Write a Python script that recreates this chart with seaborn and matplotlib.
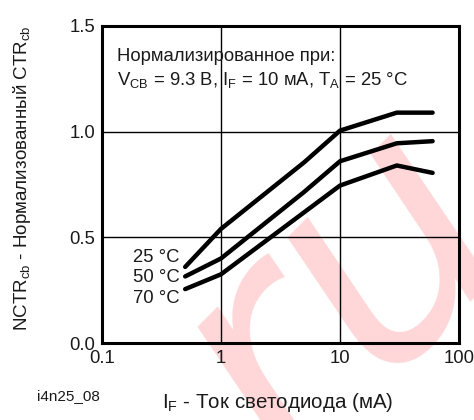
import numpy as np
import pandas as pd
import matplotlib
matplotlib.use("Agg")
import matplotlib.pyplot as plt
import seaborn as sns
from matplotlib.ticker import LogLocator, NullFormatter, MultipleLocator

# ---- data ----
if_25 = [0.5, 1, 5, 10, 30, 60]
ctr_25 = [0.36, 0.54, 0.855, 1.005, 1.09, 1.09]
if_50 = [0.5, 1, 5, 10, 30, 60]
ctr_50 = [0.315, 0.40, 0.715, 0.86, 0.945, 0.955]
if_70 = [0.5, 1, 10, 30, 60]
ctr_70 = [0.255, 0.325, 0.745, 0.84, 0.805]
temp_labels = ["25 °C", "50 °C", "70 °C"]
label_y = [0.405, 0.31, 0.21]
x_ticks = [0.1, 1, 10, 100]
x_ticklabels = ["0.1", "1", "10", "100"]
y_ticks = [0.0, 0.5, 1.0, 1.5]
y_ticklabels = ["0.0", "0.5", "1.0", "1.5"]

df = pd.concat([
    pd.DataFrame({"IF": if_25, "CTR": ctr_25, "T": "25"}),
    pd.DataFrame({"IF": if_50, "CTR": ctr_50, "T": "50"}),
    pd.DataFrame({"IF": if_70, "CTR": ctr_70, "T": "70"}),
])

sns.set_theme(style="white")
plt.rcParams["font.family"] = ["Liberation Sans", "DejaVu Sans"]
plt.rcParams["mathtext.fontset"] = "custom"
plt.rcParams["mathtext.rm"] = "Liberation Sans"

FS = 13.3
TXT = "#1a1a1a"

fig = plt.figure(figsize=(4.74, 4.2), dpi=100)
fig.patch.set_facecolor("white")
ax = fig.add_axes([102/474, 1-343/420, (459-102)/474, (343-26)/420])
ax.patch.set_alpha(0)

# watermark (site logo in the background)
fig.text(286/474, 1-474/420, "ru", fontsize=230, family="DejaVu Sans", style="italic",
         color="#ffd7d9", ha="left", va="baseline", rotation=45,
         rotation_mode="anchor", zorder=-5)

sns.lineplot(data=df, x="IF", y="CTR", units="T", estimator=None, color="black",
             lw=3.2, ax=ax, legend=False, sort=False, zorder=5)
ax.set_xscale("log")
ax.set_xlim(0.1, 100)
ax.set_ylim(0, 1.5)

ax.set_xticks(x_ticks)
ax.set_xticklabels(x_ticklabels)
ax.set_yticks(y_ticks)
ax.set_yticklabels(y_ticklabels)
ax.xaxis.set_minor_locator(LogLocator(base=10, subs=np.arange(2, 10)))
ax.xaxis.set_minor_formatter(NullFormatter())
ax.yaxis.set_minor_locator(MultipleLocator(0.1))
ax.tick_params(axis="both", which="major", length=0, labelsize=FS, colors=TXT, pad=5)
ax.tick_params(axis="both", which="minor", direction="in", length=5, width=0.9, color="black")

for v in [1, 10]:
    ax.axvline(v, color="black", lw=1.0, zorder=2)
for v in [0.5, 1.0]:
    ax.axhline(v, color="black", lw=1.0, zorder=2)
for s in ax.spines.values():
    s.set_visible(True)
    s.set_color("black")
    s.set_linewidth(2.2)

for lab, yv in zip(temp_labels, label_y):
    ax.text(0.45, yv, lab, ha="right", va="center", fontsize=FS, color=TXT)

ax.text(0.042, 0.905, "Нормализированное при:", transform=ax.transAxes,
        fontsize=FS, color=TXT, ha="left", va="center")
ax.text(0.042, 0.83,
        r"$\mathregular{V_{CB}}$ = 9.3 B, $\mathregular{I_F}$ = 10 мА, $\mathregular{T_A}$ = 25 °C",
        transform=ax.transAxes, fontsize=FS, color=TXT, ha="left", va="center")

ax.set_xlabel("")
ax.set_ylabel("")
fig.text(22/474, 1-178/420, r"NCTR$\mathregular{_{cb}}$ - Нормализованный CTR$\mathregular{_{cb}}$",
         rotation=90, ha="center", va="center", fontsize=13.5, color=TXT)
fig.text(278/474, 1-402/420, r"$\mathregular{I_F}$ - Ток светодиода (мА)",
         ha="center", va="center", fontsize=14.8, color=TXT)
fig.text(68/474, 1-396/420, "i4n25_08", ha="center", va="center", fontsize=11, color=TXT)

fig.savefig("out.png", dpi=100)
